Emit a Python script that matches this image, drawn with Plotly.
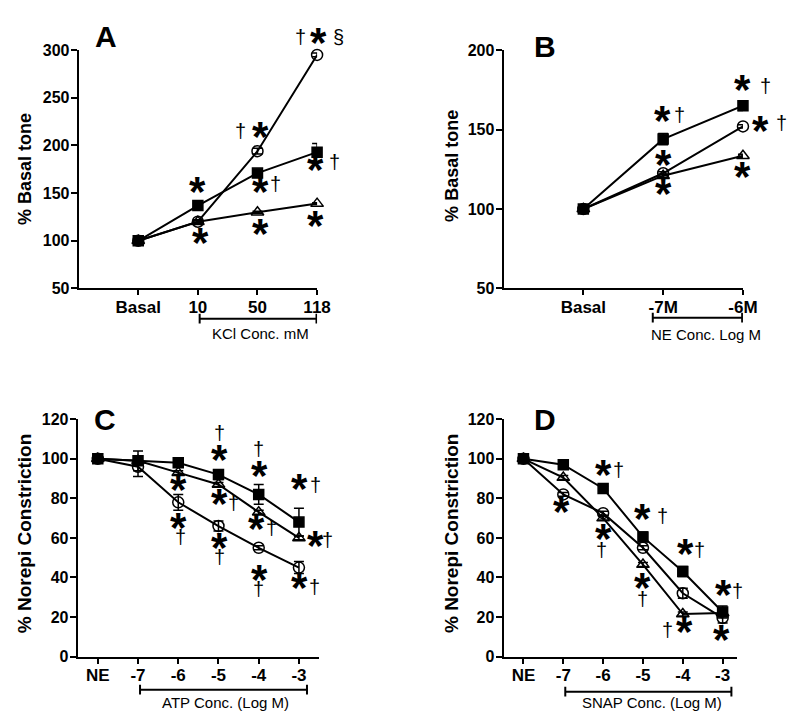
import plotly.graph_objects as go

W, H = 800, 721
FONT = "Liberation Sans, Arial, sans-serif"

# ---------------- data ----------------
# Panel A (KCl)
a_labels = ["Basal", "10", "50", "118"]
a_square = [100, 137, 171, 193]
a_square_err = [1, 2, 3, 9]
a_circle = [100, 120, 194, 295]
a_circle_err = [1, 2, 3, 2]
a_triangle = [100, 120, 130, 139]
a_triangle_err = [1, 1, 1, 1]

# Panel B (NE)
b_labels = ["Basal", "-7M", "-6M"]
b_square = [100, 144, 165]
b_square_err = [1, 3.5, 3]
b_circle = [100, 122.5, 152]
b_circle_err = [1, 1, 1]
b_triangle = [100, 121, 133.5]
b_triangle_err = [1, 1, 1]

# Panel C (ATP)
c_labels = ["NE", "-7", "-6", "-5", "-4", "-3"]
c_square = [100, 99, 98, 92, 82, 68]
c_square_err = [1, 5, 1, 2.5, 5, 7]
c_circle = [100, 96, 78, 66, 55, 45]
c_circle_err = [1, 5, 4, 2.5, 1, 3]
c_triangle = [100, 99, 93, 87, 73, 60]
c_triangle_err = [1, 1, 1, 1, 1, 1]

# Panel D (SNAP)
d_labels = ["NE", "-7", "-6", "-5", "-4", "-3"]
d_square = [100, 97, 85, 60.5, 43, 22.5]
d_square_err = [1, 1, 1, 2.5, 2.5, 3]
d_circle = [100, 82, 72.5, 55, 32, 19.5]
d_circle_err = [1, 1, 1, 1, 2.5, 2.5]
d_triangle = [100, 90.5, 70, 46.5, 21.5, 22]
d_triangle_err = [1, 1, 1, 1, 1, 1]

# significance marks: (x, y, text) in data units of each panel
a_marks = [(1.0, 153.5, "*"), (1.05, 100, "*"), (1.72, 212, "†"), (2.05, 211, "*"),
           (2.05, 153.5, "*"), (2.3, 156.5, "†"), (2.05, 110, "*"),
           (2.72, 310, "†"), (3.03, 310, "*"), (3.36, 310, "§"),
           (2.97, 177, "*"), (3.28, 179, "†"), (2.97, 117.6, "*")]
b_marks = [(0.99, 157, "*"), (1.21, 157, "†"), (1.0, 129.3, "*"), (1.0, 110.8, "*"),
           (2.0, 176.6, "*"), (2.28, 175.4, "†"), (2.22, 150.8, "*"), (2.47, 152, "†"),
           (1.99, 122, "*")]
c_marks = [(2.0, 85.4, "*"), (2.0, 66.2, "*"), (2.05, 58.8, "†"),
           (3.02, 111.6, "†"), (3.02, 100.7, "*"), (3.02, 78.5, "*"), (3.37, 76, "†"),
           (3.02, 56.3, "*"), (3.02, 48.9, "†"),
           (4.0, 103.2, "†"), (4.02, 92.8, "*"), (3.95, 65.7, "*"), (4.32, 63.7, "†"),
           (4.02, 40, "*"), (4.0, 32.6, "†"),
           (5.02, 85.9, "*"), (5.41, 85.4, "†"), (5.41, 57.3, "*"), (5.7, 57.3, "†"),
           (5.02, 36, "*"), (5.39, 33.6, "†")]
d_marks = [(0.96, 74.6, "*"), (2.0, 93.3, "*"), (2.39, 92.8, "†"),
           (2.0, 60.7, "*"), (1.95, 52.3, "†"),
           (3.0, 70.6, "*"), (3.5, 69.6, "†"), (3.0, 36, "*"), (3.0, 27.7, "†"),
           (4.06, 53.3, "*"), (4.43, 52.3, "†"), (3.62, 11.9, "†"), (4.04, 13.8, "*"),
           (5.02, 32.6, "*"), (5.37, 31.6, "†"), (4.98, 9.4, "*")]

# ---------------- layout geometry (pixel positions) ----------------
panels = {
    "A": dict(xr=[-1, 3], yr=[50, 300], xpx=(72, 315), ypx=(35, 279),
              labels=a_labels, yt=list(range(50, 301, 50)),
              series=(a_triangle, a_triangle_err, a_circle, a_circle_err, a_square, a_square_err),
              marks=a_marks, letter=(100, 21), ytitle="% Basal tone", ytpos=(18, 157),
              bracket=(1.03, 2.99, 310), blabel="KCl Conc. mM", blpos=(257, 325)),
    "B": dict(xr=[-1, 2], yr=[50, 200], xpx=(505, 749), ypx=(35, 279),
              labels=b_labels, yt=list(range(50, 201, 50)),
              series=(b_triangle, b_triangle_err, b_circle, b_circle_err, b_square, b_square_err),
              marks=b_marks, letter=(547, 31), ytitle="% Basal tone", ytpos=(453, 154),
              bracket=(0.87, 1.99, 309), blabel="NE Conc. Log M", blpos=(711, 326)),
    "C": dict(xr=[-0.5, 5.5], yr=[0, 120], xpx=(71, 317), ypx=(413, 656),
              labels=c_labels, yt=list(range(0, 121, 20)),
              series=(c_triangle, c_triangle_err, c_circle, c_circle_err, c_square, c_square_err),
              marks=c_marks, letter=(99, 413), ytitle="% Norepi Constriction", ytpos=(17, 530),
              bracket=(1.05, 5.2, 690), blabel="ATP Conc. (Log M)", blpos=(222, 703)),
    "D": dict(xr=[-0.5, 5.35], yr=[0, 120], xpx=(505, 742.5), ypx=(413, 656),
              labels=d_labels, yt=list(range(0, 121, 20)),
              series=(d_triangle, d_triangle_err, d_circle, d_circle_err, d_square, d_square_err),
              marks=d_marks, letter=(547, 413), ytitle="% Norepi Constriction", ytpos=(452, 530),
              bracket=(1.05, 5.22, 692), blabel="SNAP Conc. (Log M)", blpos=(656, 703)),
}

fig = go.Figure()
layout = dict(width=W, height=H, margin=dict(l=0, r=0, t=0, b=0, pad=0),
              paper_bgcolor="white", plot_bgcolor="white", showlegend=False)
annotations = []
shapes = []


def px_x(px):
    return px / W


def px_y(py):
    return 1 - py / H


for i, (key, p) in enumerate(panels.items()):
    suffix = "" if i == 0 else str(i + 1)
    xref, yref = "x" + suffix, "y" + suffix
    layout["xaxis" + suffix] = dict(
        domain=[px_x(p["xpx"][0]), px_x(p["xpx"][1])], range=p["xr"], anchor=yref,
        tickmode="array", tickvals=list(range(len(p["labels"]))), ticktext=p["labels"],
        showline=True, linecolor="black", linewidth=2, ticks="outside", ticklen=5,
        tickwidth=2, tickcolor="black", showgrid=False, zeroline=False, ticklabelstandoff=-3,
        tickfont=dict(family=FONT, size=17, color="black", weight="bold"))
    layout["yaxis" + suffix] = dict(
        domain=[px_y(p["ypx"][1]), px_y(p["ypx"][0])], range=p["yr"], anchor=xref,
        tickmode="array", tickvals=p["yt"],
        showline=True, linecolor="black", linewidth=2, ticks="outside", ticklen=6,
        tickwidth=2, tickcolor="black", showgrid=False, zeroline=False, ticklabelstandoff=-2,
        tickfont=dict(family=FONT, size=16, color="black", weight="bold"))

    tri, tri_e, cir, cir_e, sq, sq_e = p["series"]
    xs = list(range(len(p["labels"])))
    for vals, errs, sym, size in [(tri, tri_e, "triangle-up-open", 11),
                                  (cir, cir_e, "circle-open", 11),
                                  (sq, sq_e, "square", 10)]:
        fig.add_trace(go.Scatter(
            x=xs, y=vals, xaxis=xref, yaxis=yref, mode="lines+markers",
            line=dict(color="black", width=2),
            marker=dict(symbol=sym, size=size, color="black", line=dict(color="black", width=1.5)),
            error_y=dict(type="data", array=errs, visible=True, color="black", thickness=1.5, width=5),
            cliponaxis=False))

    # significance marks
    x0, x1 = p["xr"]; y0, y1 = p["yr"]
    ppx = (p["xpx"][1] - p["xpx"][0]) / (x1 - x0)
    ppy = (p["ypx"][1] - p["ypx"][0]) / (y1 - y0)
    for (mx, my, t) in p["marks"]:
        cx = min(max(mx, x0), x1)
        cy = min(max(my, y0), y1)
        xs_ = (mx - cx) * ppx
        ys_ = (my - cy) * ppy
        if t == "*":
            font = dict(family=FONT, size=42, color="black", weight="bold")
            ys_ -= 2
        else:
            font = dict(family=FONT, size=20, color="black")
            ys_ += 3
        annotations.append(dict(x=cx, y=cy, xref=xref, yref=yref, text=t, showarrow=False,
                                xshift=xs_, yshift=ys_, font=font, xanchor="center", yanchor="middle"))

    # panel letter
    annotations.append(dict(x=px_x(p["letter"][0]), y=px_y(p["letter"][1]), xref="paper", yref="paper",
                            text=key, showarrow=False, xanchor="center", yanchor="middle",
                            font=dict(family=FONT, size=30, color="black", weight="bold")))
    # y title
    annotations.append(dict(x=px_x(p["ytpos"][0]), y=px_y(p["ytpos"][1]), xref="paper", yref="paper",
                            text=p["ytitle"], showarrow=False, textangle=-90,
                            xanchor="center", yanchor="middle",
                            font=dict(family=FONT, size=18 if key in "AB" else 19, color="black", weight="bold")))
    # bracket
    bx0, bx1, by = p["bracket"]
    shapes.append(dict(type="line", xref=xref, yref="paper", x0=bx0, x1=bx1,
                       y0=px_y(by), y1=px_y(by), line=dict(color="black", width=2)))
    for bx in (bx0, bx1):
        shapes.append(dict(type="line", xref=xref, yref="paper", x0=bx, x1=bx,
                           y0=px_y(by - 5), y1=px_y(by + 5), line=dict(color="black", width=2)))
    annotations.append(dict(x=px_x(p["blpos"][0]), y=px_y(p["blpos"][1]), xref="paper", yref="paper",
                            text=p["blabel"], showarrow=False, xanchor="center", yanchor="middle",
                            font=dict(family=FONT, size=15, color="black")))

layout["annotations"] = annotations
layout["shapes"] = shapes
fig.update_layout(**layout)
fig.write_html("out.html")
